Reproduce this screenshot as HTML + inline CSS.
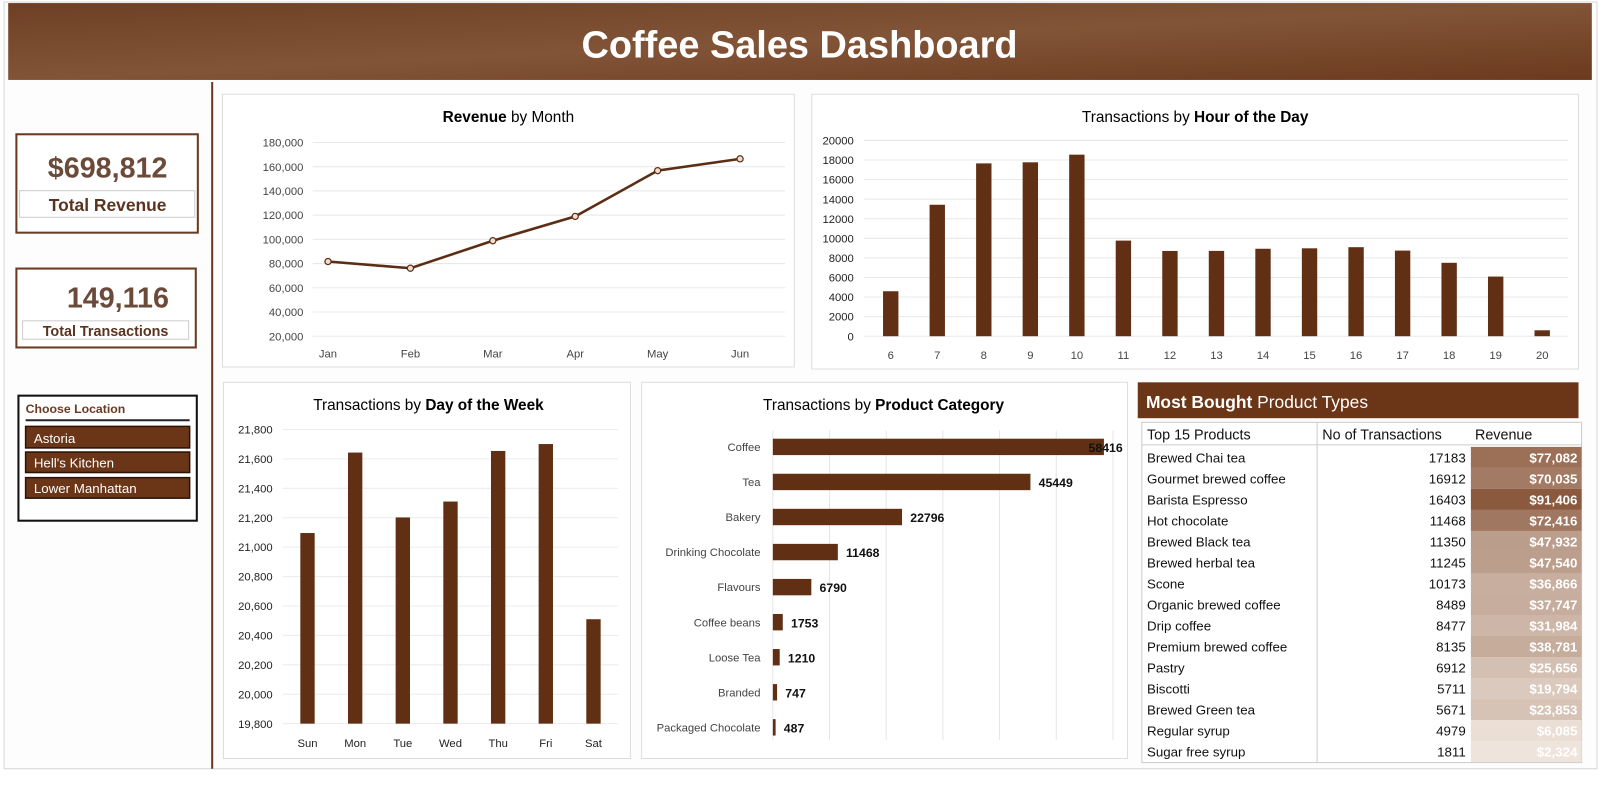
<!DOCTYPE html>
<html><head><meta charset="utf-8">
<style>
html,body{margin:0;padding:0;background:#fff;}
body{width:1609px;height:797px;overflow:hidden;font-family:"Liberation Sans",sans-serif;}
svg text{font-family:"Liberation Sans",sans-serif;}
</style></head>
<body>
<svg id="s" width="1609" height="797" viewBox="0 0 1609 797" xmlns="http://www.w3.org/2000/svg">
<defs>
<linearGradient id="hg" x1="0" y1="0" x2="1" y2="1">
<stop offset="0" stop-color="#6e3f24"/><stop offset="0.5" stop-color="#825437"/><stop offset="1" stop-color="#6c3a1e"/>
</linearGradient>
</defs>
<g transform="scale(1.025)">
<rect x="4" y="2" width="1554" height="748" fill="#fdfdfd" stroke="#d8d8d8"/>
<rect x="8" y="3" width="1545" height="75" fill="url(#hg)"/>
<text x="780" y="56" text-anchor="middle" font-size="37" font-weight="bold" fill="#fff">Coffee Sales Dashboard</text>
<line x1="207" y1="80" x2="207" y2="750" stroke="#6b3a22" stroke-width="2"/>

<g>
<rect x="16" y="131" width="177" height="96" fill="#fff" stroke="#6b3a22" stroke-width="2"/>
<text x="105" y="173" text-anchor="middle" font-size="28" font-weight="bold" fill="#6b4a3a">$698,812</text>
<rect x="19" y="186" width="171" height="26" fill="#fff" stroke="#ccc"/>
<text x="105" y="206" text-anchor="middle" font-size="17" font-weight="bold" fill="#5a3420">Total Revenue</text>
</g>
<g>
<rect x="16" y="262" width="175" height="77" fill="#fff" stroke="#6b3a22" stroke-width="2"/>
<text x="115" y="300" text-anchor="middle" font-size="28" font-weight="bold" fill="#6b4a3a">149,116</text>
<rect x="22" y="313" width="162" height="18" fill="#fff" stroke="#ccc"/>
<text x="103" y="328" text-anchor="middle" font-size="14" font-weight="bold" fill="#5a3420">Total Transactions</text>
</g>
<g>
<rect x="18" y="386" width="174" height="122" fill="#fff" stroke="#111" stroke-width="2"/>
<text x="25" y="403" font-size="12" font-weight="bold" fill="#6b3a22">Choose Location</text>
<line x1="25" y1="410" x2="185" y2="410" stroke="#222" stroke-width="2"/>
<g><rect x="25" y="416" width="160" height="21" fill="#6b3517" stroke="#2a1408" stroke-width="1.5"/><text x="33" y="432" font-size="13" fill="#fff">Astoria</text></g>
<g><rect x="25" y="441" width="160" height="20" fill="#6b3517" stroke="#2a1408" stroke-width="1.5"/><text x="33" y="456" font-size="13" fill="#fff">Hell's Kitchen</text></g>
<g><rect x="25" y="466" width="160" height="20" fill="#6b3517" stroke="#2a1408" stroke-width="1.5"/><text x="33" y="481" font-size="13" fill="#fff">Lower Manhattan</text></g>
</g>

<g>
<rect x="217" y="92" width="558" height="266" fill="#fff" stroke="#ddd"/>
<text x="496" y="119" text-anchor="middle" font-size="15" fill="#000"><tspan font-weight="bold">Revenue</tspan> by Month</text>
<g id="c1"></g>
</g>
<g>
<rect x="792" y="92" width="748" height="268" fill="#fff" stroke="#ddd"/>
<text x="1166" y="119" text-anchor="middle" font-size="15" fill="#000">Transactions by <tspan font-weight="bold">Hour of the Day</tspan></text>
<g id="c2"></g>
</g>
<g>
<rect x="218" y="373" width="397" height="367" fill="#fff" stroke="#ddd"/>
<text x="418" y="400" text-anchor="middle" font-size="15" fill="#000">Transactions by <tspan font-weight="bold">Day of the Week</tspan></text>
<g id="c3"></g>
</g>
<g>
<rect x="626" y="373" width="474" height="367" fill="#fff" stroke="#ddd"/>
<text x="862" y="400" text-anchor="middle" font-size="15" fill="#000">Transactions by <tspan font-weight="bold">Product Category</tspan></text>
<g id="c4"></g>
</g>
<g>
<rect x="1110" y="373" width="430" height="35" fill="#6b3517"/>
<text x="1118" y="398" font-size="17" fill="#fff"><tspan font-weight="bold">Most Bought</tspan> Product Types</text>
<rect x="1114" y="412" width="429" height="332" fill="#fff" stroke="#ccc"/>
<line x1="1285" y1="412" x2="1285" y2="744" stroke="#ccc"/>
<line x1="1114" y1="434" x2="1543" y2="434" stroke="#ccc"/>
<text x="1119" y="429" font-size="14" fill="#111">Top 15 Products</text>
<text x="1290" y="429" font-size="14" fill="#111">No of Transactions</text>
<text x="1439" y="429" font-size="14" fill="#111">Revenue</text>
<g id="tb"></g>
</g>
</g>
</svg>
<script>
const months=["Jan","Feb","Mar","Apr","May","Jun"];
const monthRevenue=[81677,76145,98834,118941,156728,166486];
const revTicks=[20000,40000,60000,80000,100000,120000,140000,160000,180000];
const hours=[6,7,8,9,10,11,12,13,14,15,16,17,18,19,20];
const hourTx=[4594,13428,17654,17764,18545,9766,8708,8714,8933,8979,9093,8745,7498,6092,603];
const hourTicks=[0,2000,4000,6000,8000,10000,12000,14000,16000,18000,20000];
const days=["Sun","Mon","Tue","Wed","Thu","Fri","Sat"];
const dayTx=[21096,21643,21202,21310,21654,21701,20510];
const dayTicks=[19800,20000,20200,20400,20600,20800,21000,21200,21400,21600,21800];
const categories=["Coffee","Tea","Bakery","Drinking Chocolate","Flavours","Coffee beans","Loose Tea","Branded","Packaged Chocolate"];
const categoryTx=[58416,45449,22796,11468,6790,1753,1210,747,487];
const products=["Brewed Chai tea","Gourmet brewed coffee","Barista Espresso","Hot chocolate","Brewed Black tea","Brewed herbal tea","Scone","Organic brewed coffee","Drip coffee","Premium brewed coffee","Pastry","Biscotti","Brewed Green tea","Regular syrup","Sugar free syrup"];
const productTx=[17183,16912,16403,11468,11350,11245,10173,8489,8477,8135,6912,5711,5671,4979,1811];
const productRev=[77082,70035,91406,72416,47932,47540,36866,37747,31984,38781,25656,19794,23853,6085,2324];

const NS="http://www.w3.org/2000/svg";
function el(p,tag,a,txt){const e=document.createElementNS(NS,tag);for(const k in a)e.setAttribute(k,a[k]);if(txt!==undefined)e.textContent=txt;p.appendChild(e);return e;}
const BAR="#613014";
const fmt=n=>n.toLocaleString("en-US");

(function(){const g=document.getElementById("c1");
const y=v=>328-(v-20000)/160000*189; const x=i=>320+i*80.4;
revTicks.forEach(t=>{const l=el(g,"line",{x1:305,x2:766,y1:y(t),y2:y(t),stroke:"#e8e8e8"});


const tx=el(g,"text",{x:296,y:y(t)+4,"text-anchor":"end","font-size":11,fill:"#444"},fmt(t));

});
months.forEach((m,i)=>{const tx=el(g,"text",{x:x(i),y:349,"text-anchor":"middle","font-size":11,fill:"#444"},m);

});
const pts=monthRevenue.map((v,i)=>x(i)+","+y(v)).join(" ");
const pl=el(g,"polyline",{points:pts,fill:"none",stroke:"#5a2d14","stroke-width":2.5});


monthRevenue.forEach((v,i)=>{const c=el(g,"circle",{cx:x(i),cy:y(v),r:3,fill:"#f3dccd",stroke:"#5a2d14","stroke-width":1.2});

});
})();
(function(){const g=document.getElementById("c2");
const y=v=>328-v/20000*191; const x=i=>869+i*45.4;
hourTicks.forEach(t=>{const l=el(g,"line",{x1:843,x2:1530,y1:y(t),y2:y(t),stroke:"#e8e8e8"});


const tx=el(g,"text",{x:833,y:y(t)+4,"text-anchor":"end","font-size":11,fill:"#222"},t);

});
hours.forEach((h,i)=>{const r=el(g,"rect",{x:x(i)-7.5,y:y(hourTx[i]),width:15,height:328-y(hourTx[i]),fill:BAR});


const tx=el(g,"text",{x:x(i),y:350,"text-anchor":"middle","font-size":11,fill:"#444"},h);

});
})();
(function(){const g=document.getElementById("c3");
const y=v=>706-(v-19800)/2000*287; const x=i=>300+i*46.5;
dayTicks.forEach(t=>{const l=el(g,"line",{x1:276,x2:603,y1:y(t),y2:y(t),stroke:"#ececec"});


const tx=el(g,"text",{x:266,y:y(t)+4,"text-anchor":"end","font-size":11,fill:"#222"},fmt(t));

});
days.forEach((d,i)=>{const r=el(g,"rect",{x:x(i)-7,y:y(dayTx[i]),width:14,height:706-y(dayTx[i]),fill:BAR});


const tx=el(g,"text",{x:x(i),y:729,"text-anchor":"middle","font-size":11,fill:"#222"},d);

});
})();
(function(){const g=document.getElementById("c4");
const x0=754, sx=v=>v*323/58416; const y=i=>436+i*34.2;
for(let k=0;k<=6;k++){const gx=x0+sx(k*10000);const l=el(g,"line",{x1:gx,x2:gx,y1:420,y2:722,stroke:"#e6e6e6"});

}
categories.forEach((c,i)=>{const tx=el(g,"text",{x:742,y:y(i)+4,"text-anchor":"end","font-size":11,fill:"#444"},c);


const r=el(g,"rect",{x:x0,y:y(i)-8,width:sx(categoryTx[i]),height:16,fill:BAR});


const v=el(g,"text",{x:x0+sx(categoryTx[i])+(i==0?-15:8),y:y(i)+5,"font-size":12,"font-weight":"bold",fill:"#111"},categoryTx[i]);

});
})();
(function(){const g=document.getElementById("tb");
const mn=Math.min(...productRev),mx=Math.max(...productRev);
const lo=[238,228,220],hi=[139,90,62];
products.forEach((p,i)=>{const yt=436+i*20.5;
const f=(productRev[i]-mn)/(mx-mn);const c=lo.map((l,k)=>Math.round(l+(hi[k]-l)*f));
const r=el(g,"rect",{x:1435,y:yt,width:108,height:20.5,fill:"rgb("+c.join(",")+")"});


const n=el(g,"text",{x:1119,y:yt+15,"font-size":13,fill:"#111"},p);


const t=el(g,"text",{x:1430,y:yt+15,"text-anchor":"end","font-size":13,fill:"#111"},productTx[i]);


const v=el(g,"text",{x:1539,y:yt+15,"text-anchor":"end","font-size":13,"font-weight":"bold",fill:"#fff"},"$"+fmt(productRev[i]));

});
})();
</script>
</body></html>
